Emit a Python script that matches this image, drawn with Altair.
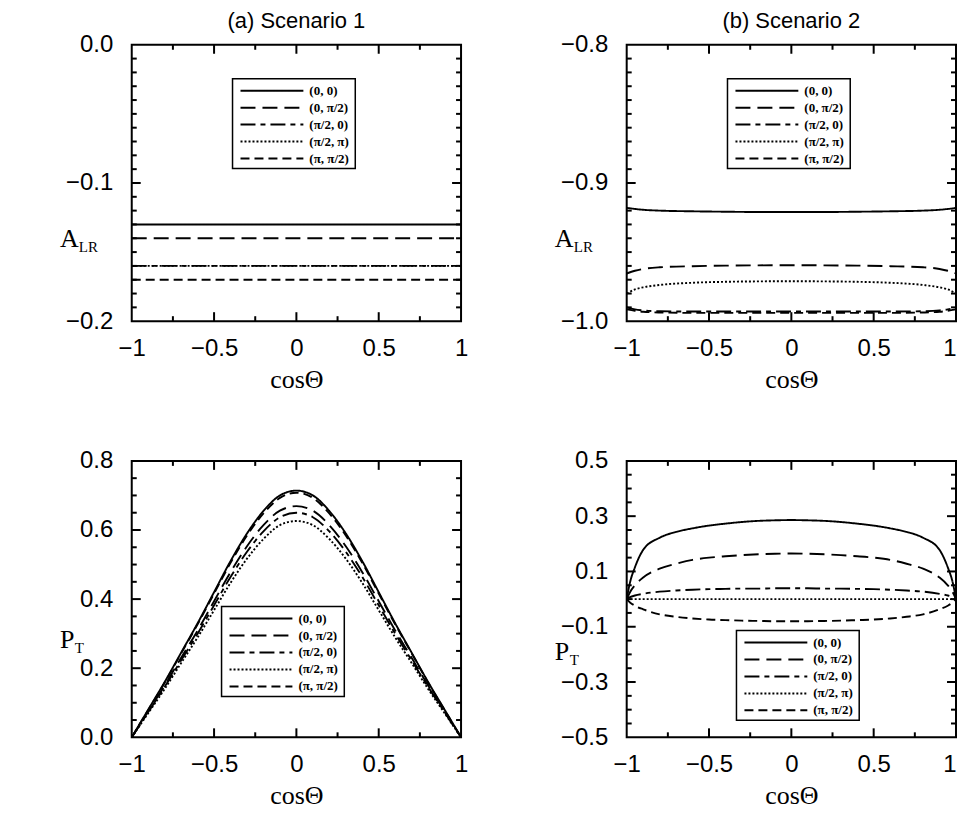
import altair as alt
import pandas as pd

SERIES = ["(0,  0)", "(0, π/2)", "(π/2, 0)", "(π/2, π)", "(π, π/2)"]
DASHES = [[1, 0], [15, 7], [15, 5, 5, 5], [2, 2], [9, 5]]

# (a) Scenario 1, A_LR
COS_A = [-1.0, 1.0]
A1_00 = [-0.130, -0.130]
A1_0P2 = [-0.140, -0.140]
A1_P20 = [-0.160, -0.160]
A1_P2P = [-0.160, -0.160]
A1_PP2 = [-0.170, -0.170]

# (b) Scenario 2, A_LR
COS_B = [-1.0, -0.95, -0.9, -0.8, -0.6, -0.4, -0.2, 0.0, 0.2, 0.4, 0.6, 0.8, 0.9, 0.95, 1.0]
A2_00 = [-0.9180, -0.9188, -0.9194, -0.9200, -0.9205, -0.9208, -0.9210, -0.9210,
         -0.9210, -0.9208, -0.9205, -0.9200, -0.9194, -0.9188, -0.9180]
A2_0P2 = [-0.9655, -0.9635, -0.9622, -0.9610, -0.9602, -0.9598, -0.9596, -0.9595,
          -0.9596, -0.9598, -0.9602, -0.9610, -0.9622, -0.9635, -0.9655]
A2_P20 = [-0.9900, -0.9915, -0.9922, -0.9928, -0.9930, -0.9930, -0.9930, -0.9930,
          -0.9930, -0.9930, -0.9930, -0.9928, -0.9922, -0.9915, -0.9900]
A2_P2P = [-0.9800, -0.9770, -0.9755, -0.9738, -0.9722, -0.9715, -0.9712, -0.9711,
          -0.9712, -0.9715, -0.9722, -0.9738, -0.9755, -0.9770, -0.9800]
A2_PP2 = [-0.9915, -0.9925, -0.9932, -0.9937, -0.9940, -0.9940, -0.9940, -0.9940,
          -0.9940, -0.9940, -0.9940, -0.9937, -0.9932, -0.9925, -0.9915]

# (c) Scenario 1, P_T
COS_C = [-1.0, -0.9, -0.8, -0.7, -0.6, -0.5, -0.4, -0.3, -0.2, -0.1, 0.0,
         0.1, 0.2, 0.3, 0.4, 0.5, 0.6, 0.7, 0.8, 0.9, 1.0]
P1_00 = [0.0, 0.080, 0.160, 0.245, 0.330, 0.420, 0.510, 0.590, 0.655, 0.700, 0.714,
         0.700, 0.655, 0.590, 0.510, 0.420, 0.330, 0.245, 0.160, 0.080, 0.0]
P1_0P2 = [0.0, 0.075, 0.150, 0.230, 0.309, 0.394, 0.478, 0.553, 0.614, 0.656, 0.669,
          0.656, 0.614, 0.553, 0.478, 0.394, 0.309, 0.230, 0.150, 0.075, 0.0]
P1_P20 = [0.0, 0.073, 0.146, 0.223, 0.300, 0.382, 0.464, 0.537, 0.596, 0.637, 0.650,
          0.637, 0.596, 0.537, 0.464, 0.382, 0.300, 0.223, 0.146, 0.073, 0.0]
P1_P2P = [0.0, 0.070, 0.140, 0.215, 0.289, 0.368, 0.447, 0.517, 0.574, 0.614, 0.626,
          0.614, 0.574, 0.517, 0.447, 0.368, 0.289, 0.215, 0.140, 0.070, 0.0]
P1_PP2 = [0.0, 0.079, 0.158, 0.243, 0.327, 0.416, 0.505, 0.584, 0.648, 0.693, 0.708,
          0.693, 0.648, 0.584, 0.505, 0.416, 0.327, 0.243, 0.158, 0.079, 0.0]

# (d) Scenario 2, P_T
COS_D = [-1.0, -0.98, -0.95, -0.9, -0.8, -0.7, -0.6, -0.5, -0.4, -0.3, -0.2, -0.1, 0.0,
         0.1, 0.2, 0.3, 0.4, 0.5, 0.6, 0.7, 0.8, 0.9, 0.95, 0.98, 1.0]
P2_00 = [0.0, 0.060, 0.115, 0.178, 0.222, 0.243, 0.256, 0.266, 0.273, 0.279, 0.283, 0.285, 0.286,
         0.285, 0.283, 0.279, 0.273, 0.266, 0.256, 0.243, 0.222, 0.178, 0.115, 0.060, 0.0]
P2_0P2 = [0.0, 0.025, 0.050, 0.078, 0.110, 0.128, 0.142, 0.150, 0.155, 0.159, 0.162, 0.164, 0.165,
          0.164, 0.162, 0.159, 0.155, 0.150, 0.142, 0.128, 0.110, 0.078, 0.050, 0.025, 0.0]
P2_P20 = [0.0, 0.007, 0.013, 0.019, 0.027, 0.031, 0.034, 0.036, 0.037, 0.038, 0.038, 0.039, 0.039,
          0.039, 0.038, 0.038, 0.037, 0.036, 0.034, 0.031, 0.027, 0.019, 0.013, 0.007, 0.0]
P2_P2P = [0.0] * 25
P2_PP2 = [0.0, -0.012, -0.024, -0.037, -0.055, -0.064, -0.070, -0.074, -0.076, -0.078, -0.079, -0.080, -0.080,
          -0.080, -0.079, -0.078, -0.076, -0.074, -0.070, -0.064, -0.055, -0.037, -0.024, -0.012, 0.0]

X_LABELS = [-1, -0.5, 0, 0.5, 1]
X_MAJOR = [-0.5, 0, 0.5]
X_MINOR = [-0.75, -0.25, 0.25, 0.75]

W, H = 330, 277
MAJ, MIN = 9, 5
SANS = "Liberation Sans"
SERIF = "Liberation Serif"


def make_panel(cos, curves, ydomain, ylabels, ymajor, yminor, box, ymain, ysub, ytitle_y,
               right_col, title=None):
    rows = []
    for name, vals in zip(SERIES, curves):
        for c, v in zip(cos, vals):
            rows.append({"cos": c, "val": v, "series": name})
    df = pd.DataFrame(rows)
    xs = alt.Scale(domain=[-1, 1], nice=False, zero=False)
    ys = alt.Scale(domain=ydomain, nice=False, zero=False)
    dash = alt.Scale(domain=SERIES, range=DASHES)

    if right_col:
        xalign = {"condition": {"test": "datum.value == 1", "value": "right"}, "value": "center"}
    else:
        xalign = "center"

    xaxis = alt.Axis(
        values=X_LABELS, format="~g", title="cosΘ", ticks=False, domain=False, grid=False,
        labelFont=SANS, labelFontSize=24, labelColor="black", labelPadding=15,
        labelFlush=False, labelAlign=xalign, labelOverlap=False,
        titleFont=SERIF, titleFontSize=26, titleFontWeight="normal", titleColor="black",
        titlePadding=6)

    lines = alt.Chart(df).mark_line(color="black", strokeWidth=1.9, interpolate="monotone", clip=True).encode(
        x=alt.X("cos:Q", scale=xs, axis=xaxis),
        y=alt.Y("val:Q", scale=ys, axis=alt.Axis(
            values=ylabels, format=".1f", title=None, ticks=False, domain=False, grid=False,
            labelFont=SANS, labelFontSize=24, labelColor="black", labelPadding=19,
            labelFlush=False, labelOverlap=False)),
        strokeDash=alt.StrokeDash("series:N", scale=dash, legend=None),
        detail="series:N",
    )

    layers = [lines]

    def xt(vals, L, side):
        d = pd.DataFrame({"cos": vals})
        if side == "bottom":
            yy, yy2 = alt.value(H), alt.value(H - L)
        else:
            yy, yy2 = alt.value(0), alt.value(L)
        return alt.Chart(d).mark_rule(color="black", strokeWidth=2).encode(
            x=alt.X("cos:Q", scale=xs, axis=xaxis), y=yy, y2=yy2)

    def yt(vals, L, side):
        d = pd.DataFrame({"val": vals})
        if side == "left":
            xx, xx2 = alt.value(0), alt.value(L)
        else:
            xx, xx2 = alt.value(W), alt.value(W - L)
        return alt.Chart(d).mark_rule(color="black", strokeWidth=2).encode(
            y=alt.Y("val:Q", scale=ys, axis=None), x=xx, x2=xx2)

    for side in ["bottom", "top"]:
        layers.append(xt(X_MAJOR, MAJ, side))
        layers.append(xt(X_MINOR, MIN, side))
    for side in ["left", "right"]:
        layers.append(yt(ymajor, MAJ, side))
        layers.append(yt(yminor, MIN, side))

    bx, by = box
    bw, bh = 123, 90
    layers.append(
        alt.Chart(pd.DataFrame({"k": [0]})).mark_rect(fill="white", stroke="black", strokeWidth=1.5).encode(
            x=alt.value(bx), x2=alt.value(bx + bw), y=alt.value(by), y2=alt.value(by + bh)))
    leg = pd.DataFrame({"series": SERIES, "row": [0, 1, 2, 3, 4]})
    rs = alt.Scale(domain=[0, 4], range=[by + 12, by + 80])
    layers.append(
        alt.Chart(leg).mark_rule(color="black", strokeWidth=2).encode(
            x=alt.value(bx + 8), x2=alt.value(bx + 71),
            y=alt.Y("row:Q", scale=rs, axis=None),
            strokeDash=alt.StrokeDash("series:N", scale=dash, legend=None)))
    layers.append(
        alt.Chart(leg).mark_text(align="left", baseline="middle", font=SERIF, fontWeight="bold",
                                 fontSize=13, color="black").encode(
            x=alt.value(bx + 77), y=alt.Y("row:Q", scale=rs, axis=None), text="series:N"))

    # y-axis title with subscript
    main_w = 19 if ymain == "A" else 15
    layers.append(
        alt.Chart(pd.DataFrame({"t": [ymain]})).mark_text(
            align="left", baseline="middle", font=SERIF, fontSize=26, color="black").encode(
            x=alt.value(-72), y=alt.value(ytitle_y), text="t:N"))
    layers.append(
        alt.Chart(pd.DataFrame({"t": [ysub]})).mark_text(
            align="left", baseline="middle", font=SERIF, fontSize=15, color="black").encode(
            x=alt.value(-72 + main_w), y=alt.value(ytitle_y + 8), text="t:N"))

    props = dict(width=W, height=H)
    if title:
        props["title"] = alt.TitleParams(text=title, font=SANS, fontSize=22, fontWeight="normal",
                                         color="black", offset=0, anchor="middle")
    return alt.layer(*layers).resolve_scale(y="independent").properties(**props)


ya_minor = [round(-0.01 * i, 2) for i in range(1, 20) if i != 10]
yb_minor = [round(-0.8 - 0.01 * i, 2) for i in range(1, 20) if i != 10]
yc_minor = [round(0.05 * i, 2) for i in range(1, 16) if i % 4 != 0]
yd_minor = [round(-0.5 + 0.05 * i, 2) for i in range(1, 20) if i not in (4, 8, 12, 16)]

pa = make_panel(COS_A, [A1_00, A1_0P2, A1_P20, A1_P2P, A1_PP2], [-0.2, 0.0], [0.0, -0.1, -0.2],
                [-0.1], ya_minor, (101, 34), "A", "LR", 195, False, "(a) Scenario 1")
pb = make_panel(COS_B, [A2_00, A2_0P2, A2_P20, A2_P2P, A2_PP2], [-1.0, -0.8], [-0.8, -0.9, -1.0],
                [-0.9], yb_minor, (101, 34), "A", "LR", 195, True, "(b) Scenario 2")
pc = make_panel(COS_C, [P1_00, P1_0P2, P1_P20, P1_P2P, P1_PP2], [0.0, 0.8], [0.0, 0.2, 0.4, 0.6, 0.8],
                [0.2, 0.4, 0.6], yc_minor, (90, 146), "P", "T", 180, False)
pd_ = make_panel(COS_D, [P2_00, P2_0P2, P2_P20, P2_P2P, P2_PP2], [-0.5, 0.5],
                 [0.5, 0.3, 0.1, -0.1, -0.3, -0.5], [-0.3, -0.1, 0.1, 0.3], yd_minor, (110, 170),
                 "P", "T", 192, True)

chart = alt.concat(pa, pb, pc, pd_, columns=2, spacing={"row": 140, "column": 166}, bounds="flush").resolve_scale(
    x="independent", y="independent", strokeDash="independent"
).properties(
    padding={"left": 51, "top": 0, "right": 0, "bottom": 0}
).configure_view(stroke="black", strokeWidth=2)

chart.save("out.html", embed_options={"renderer": "svg", "actions": False})
